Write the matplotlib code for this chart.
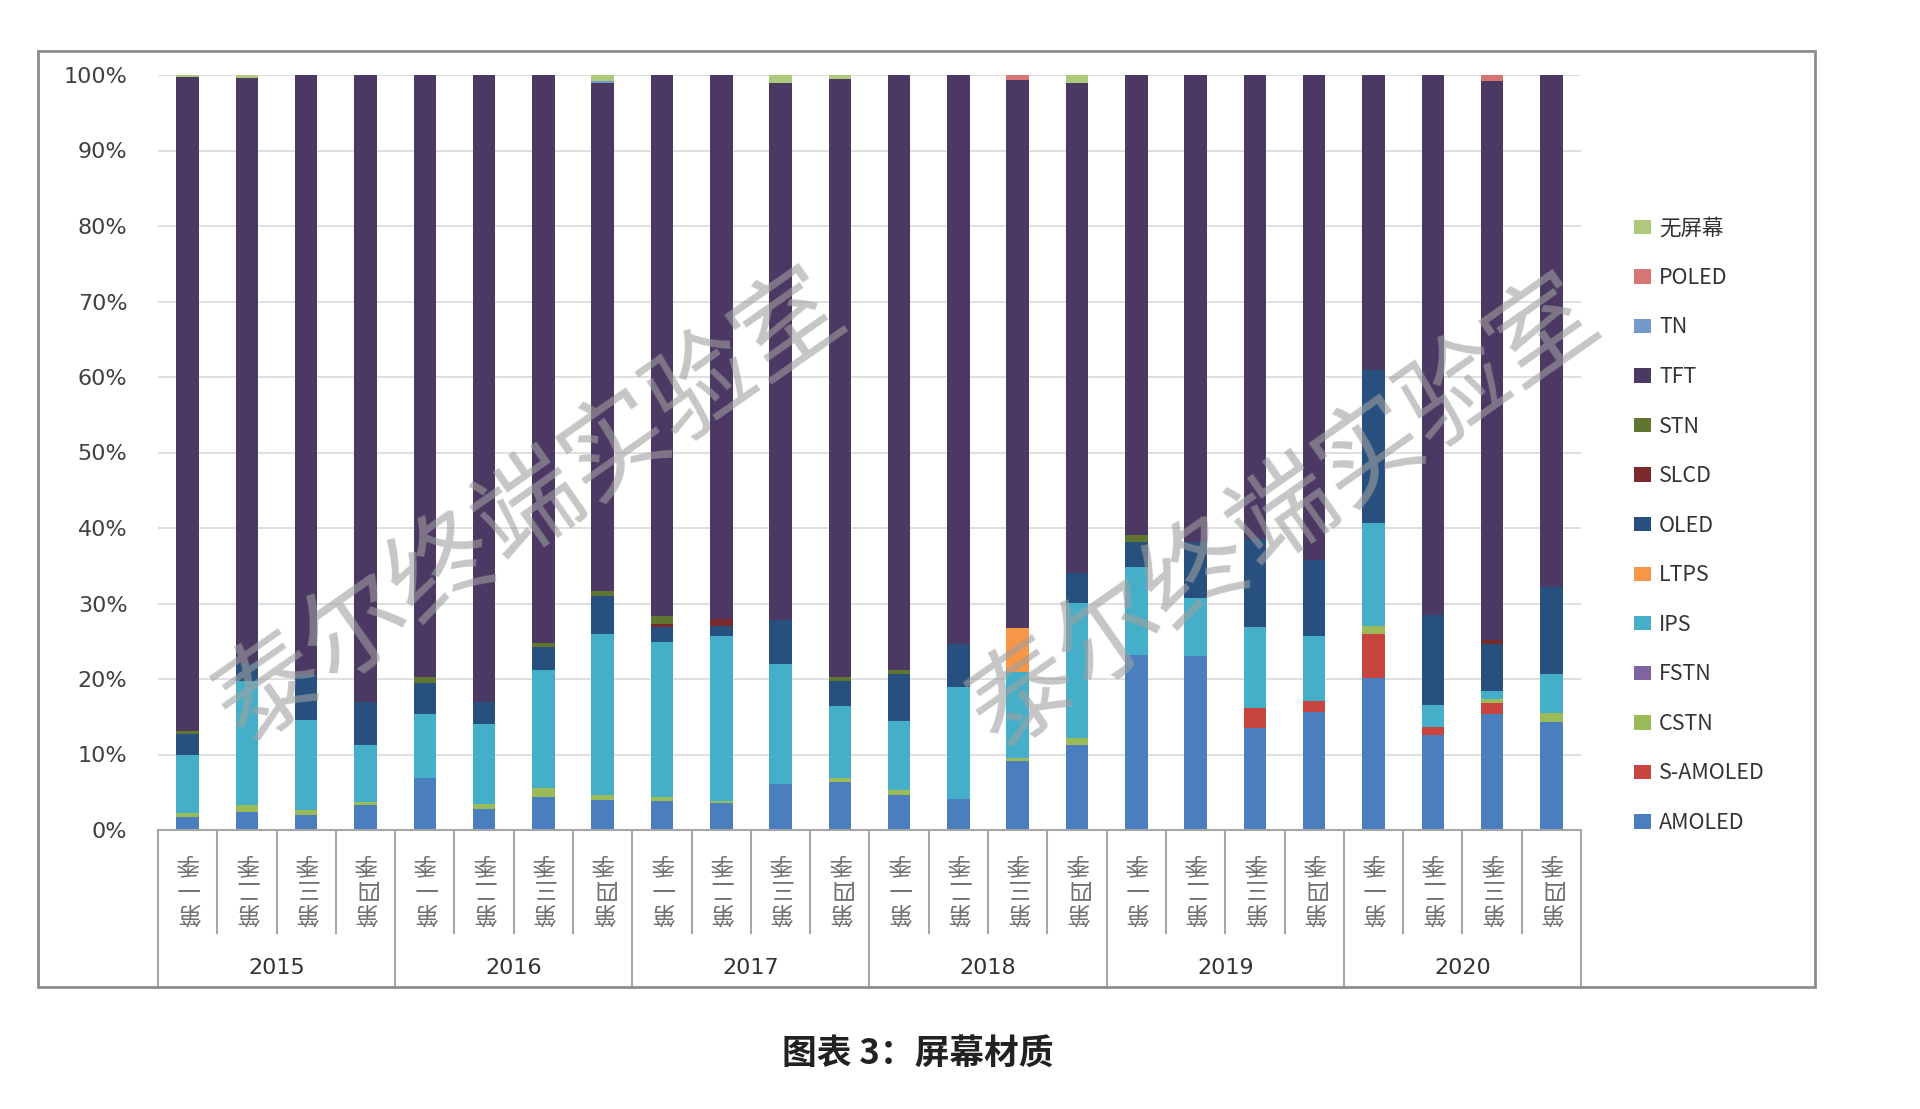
import matplotlib
matplotlib.use("Agg")
import matplotlib.pyplot as plt
from matplotlib.patches import Rectangle, Patch
from matplotlib.transforms import blended_transform_factory
import numpy as np

plt.rcParams['font.family'] = ['Noto Sans CJK SC', 'DejaVu Sans']

years = ['2015', '2016', '2017', '2018', '2019', '2020']
quarters = ['第\n一\n季', '第\n二\n季', '第\n三\n季', '第\n四\n季']

series_names = ['AMOLED', 'S-AMOLED', 'CSTN', 'FSTN', 'IPS', 'LTPS', 'OLED',
                'SLCD', 'STN', 'TFT', 'TN', 'POLED', '无屏幕']
series_colors = ['#4A7EBF', '#C8443F', '#9BBB59', '#8064A2', '#45AFC9', '#F79646',
                 '#28507E', '#7A2A2C', '#5F7530', '#4B3863', '#729ACA', '#D87575', '#AFC97A']

# values in percent, one per quarter (2015Q1 ... 2020Q4)
AMOLED   = [1.7, 2.4, 2.0, 3.3, 6.9, 2.8, 4.4, 4.0, 3.8, 3.6, 6.1, 6.3,
            4.7, 4.1, 9.1, 11.3, 23.2, 23.0, 13.5, 15.6, 20.1, 12.6, 15.4, 14.3]
S_AMOLED = [0, 0, 0, 0, 0, 0, 0, 0, 0, 0, 0, 0,
            0, 0, 0, 0, 0, 0, 2.6, 1.5, 5.8, 1.0, 1.4, 0]
CSTN     = [0.5, 0.9, 0.7, 0.4, 0, 0.6, 1.2, 0.7, 0.6, 0.3, 0, 0.6,
            0.6, 0, 0.4, 0.9, 0, 0, 0, 0, 1.1, 0, 0.5, 1.2]
FSTN     = [0, 0, 0, 0, 0, 0, 0, 0, 0, 0, 0, 0,
            0, 0, 0, 0, 0, 0, 0, 0, 0, 0, 0, 0]
IPS      = [7.8, 16.4, 11.9, 7.6, 8.4, 10.7, 15.6, 21.2, 20.5, 21.8, 15.9, 9.5,
            9.2, 14.8, 11.4, 17.9, 11.6, 7.7, 10.8, 8.6, 13.7, 3.0, 1.1, 5.1]
LTPS     = [0, 0, 0, 0, 0, 0, 0, 0, 0, 0, 0, 0,
            0, 0, 5.9, 0, 0, 0, 0, 0, 0, 0, 0, 0]
OLED     = [2.7, 2.4, 6.1, 5.6, 4.2, 2.9, 3.0, 5.1, 2.0, 1.3, 5.8, 3.3,
            6.2, 5.8, 0, 4.0, 3.4, 7.5, 11.6, 10.0, 20.2, 11.9, 6.2, 11.6]
SLCD     = [0, 0, 0, 0, 0, 0, 0, 0, 0.4, 1.0, 0, 0,
            0, 0, 0, 0, 0, 0, 0, 0, 0, 0, 0.6, 0]
STN      = [0.4, 0, 0, 0, 0.7, 0, 0.6, 0.6, 1.1, 0, 0, 0.5,
            0.5, 0, 0, 0, 0.9, 0, 0, 0, 0, 0, 0, 0]
TFT      = [86.6, 77.5, 79.3, 83.1, 79.8, 83.0, 75.2, 67.3, 71.6, 72.0, 71.2, 79.3,
            78.8, 75.3, 72.5, 64.9, 60.9, 61.8, 61.5, 64.3, 39.1, 71.5, 74.0, 67.8]
TN       = [0, 0, 0, 0, 0, 0, 0, 0.35, 0, 0, 0, 0,
            0, 0, 0, 0, 0, 0, 0, 0, 0, 0, 0, 0]
POLED    = [0, 0, 0, 0, 0, 0, 0, 0, 0, 0, 0, 0,
            0, 0, 0.7, 0, 0, 0, 0, 0, 0, 0, 0.8, 0]
NO_SCREEN = [0.3, 0.4, 0, 0, 0, 0, 0, 0.75, 0, 0, 1.0, 0.5,
             0, 0, 0, 1.0, 0, 0, 0, 0, 0, 0, 0, 0]

series_values = [AMOLED, S_AMOLED, CSTN, FSTN, IPS, LTPS, OLED, SLCD, STN, TFT,
                 TN, POLED, NO_SCREEN]

W, H = 1920, 1109
fig = plt.figure(figsize=(W / 100, H / 100), dpi=100)
fig.patch.set_facecolor('white')

# axes placement (pixel based)
left_px, right_px, top_px, bottom_px = 158, 1581, 75, 830
ax = fig.add_axes([left_px / W, 1 - bottom_px / H,
                   (right_px - left_px) / W, (bottom_px - top_px) / H])

n = len(AMOLED)
x = np.arange(n)
bottom = np.zeros(n)
for name, vals, col in zip(series_names, series_values, series_colors):
    v = np.array(vals, dtype=float)
    ax.bar(x, v, bottom=bottom, width=0.38, color=col, label=name,
           linewidth=0, zorder=3)
    bottom += v

ax.set_xlim(-0.5, n - 0.5)
ax.set_ylim(0, 100)
ax.set_yticks(np.arange(0, 101, 10))
ax.set_yticklabels([f'{t}%' for t in range(0, 101, 10)], fontsize=16,
                   color='#404040', family=['DejaVu Sans'])
ax.tick_params(axis='y', length=0, pad=22)
ax.set_xticks([])
ax.grid(axis='y', color='#d9d9d9', linewidth=1.2, zorder=0)
for s in ['left', 'top', 'right']:
    ax.spines[s].set_visible(False)
ax.spines['bottom'].set_color('#a6a6a6')
ax.spines['bottom'].set_linewidth(1.5)
ax.spines['bottom'].set_zorder(4)

# category table
trans = blended_transform_factory(ax.transData, ax.transAxes)
q_bottom = -(933 - bottom_px) / (bottom_px - top_px)
y_bottom = -(987 - bottom_px) / (bottom_px - top_px)
for i in range(n + 1):
    xb = i - 0.5
    yb = y_bottom if i % 4 == 0 else q_bottom
    ax.plot([xb, xb], [0, yb], transform=trans, color='#a6a6a6', lw=1.5,
            clip_on=False, zorder=2)

q_center = -(887 - bottom_px) / (bottom_px - top_px)
yr_center = -(968 - bottom_px) / (bottom_px - top_px)
for i in range(n):
    ax.text(i, q_center, quarters[i % 4], transform=trans, rotation=180,
            ha='center', va='center', multialignment='center', fontsize=17,
            color='#707070', linespacing=1.1)
for j, yr in enumerate(years):
    ax.text(4 * j + 1.5, yr_center, yr, transform=trans, ha='center',
            va='center', fontsize=16, color='#333333', family=['DejaVu Sans'])

# legend (reversed order like Excel)
handles = [Patch(facecolor=c, edgecolor='none') for c in series_colors][::-1]
labels = series_names[::-1]
fig.legend(handles, labels, loc='upper left',
           bbox_to_anchor=(1615 / W, 1 - 198 / H), bbox_transform=fig.transFigure,
           frameon=False, fontsize=15.5, handlelength=0.75, handleheight=0.65,
           handletextpad=0.4, labelspacing=1.28, labelcolor='#333333')

# outer frame
fig.patches.append(Rectangle((38 / W, 1 - 987 / H), (1815 - 38) / W, (987 - 51) / H,
                             transform=fig.transFigure, fill=False,
                             edgecolor='#8c8c8c', linewidth=2))

# watermark
for cx, cy in [(530, 508), (1284, 514)]:
    fig.text(cx / W, 1 - cy / H, '泰尔终端实验室', rotation=35, ha='center',
             va='center', fontsize=76, color='#a0a0a0', alpha=0.6, zorder=10)

# caption
fig.text(918 / W, 1 - 1053 / H, '图表 3：屏幕材质', ha='center', va='center',
         fontsize=25, color='#222222', fontweight='bold')

fig.savefig('out.png', dpi=100, facecolor='white')
